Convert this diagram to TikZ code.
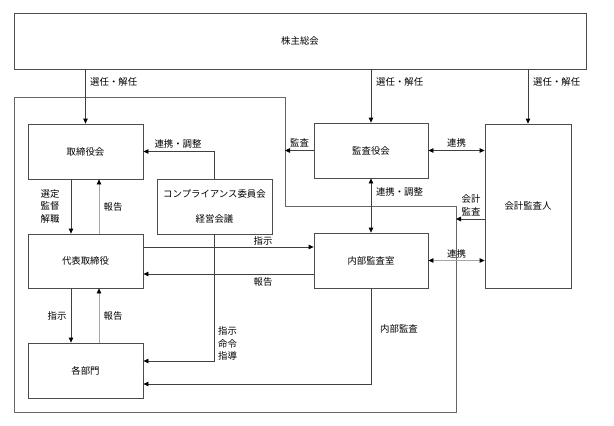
\documentclass[tikz,border=0pt]{standalone}
\usepackage{fontspec}
\setmainfont{Noto Sans CJK JP}
\usetikzlibrary{arrows.meta}
\tikzset{
	box/.style={draw=black!70, line width=0.8pt, minimum width=115pt, minimum height=55pt, inner sep=0pt},
	arr/.style={draw=black!75, line width=0.8pt, -{Triangle[length=5pt,width=4.5pt,color=black]}},
	darr/.style={draw=black!75, line width=0.8pt, {Triangle[length=5pt,width=4.5pt,color=black]}-{Triangle[length=5pt,width=4.5pt,color=black]}},
	lbl/.style={inner sep=0pt, align=center, font=\fontsize{9.4}{12.5}\selectfont}
}
\begin{document}
\begin{tikzpicture}[x=1pt, y=-1pt, font=\fontsize{9.4}{12.5}\selectfont]
		\useasboundingbox (0,0) rectangle (614,426);
		%company frame
		\coordinate (wakuNE) at (285,97);
		\coordinate (wakuSE) at (456,412);
		\draw[black!60, line width=0.8pt] (14,97) -- (wakuNE) -- (285,206) -- (456,206) -- (wakuSE) -- (14,412) -- cycle;
		
		%boxes
		\node[box, minimum width=572pt, minimum height=56pt] (soukai) at (300,41) {株主総会};
		\node[box] (torishimari) at (85.5,151.5) {取締役会};
		\node[box, align=center] (comp) at (214.5,206.5) {コンプライアンス委員会\\[13pt]経営会議};
		\node[box, minimum height=54pt] (daihyo) at (85.5,261) {代表取締役};
		\node[box] (kakubumon) at (85.5,370.5) {各部門};
		\node[box, minimum width=114pt] (kansa) at (371,150.5) {監査役会};
		\node[box, minimum width=114pt] (naibu) at (371,260.5) {内部監査室};
		\node[box, minimum width=86pt, minimum height=164pt] (kaikei) at (528,206) {会計監査人};
		
		%from the shareholders
		\foreach \b in {torishimari, kansa, kaikei}{
			\draw[arr] (\b |- soukai.south) -- (\b.north);
		}
		\node[lbl, anchor=west] (sennin1) at (90,82) {選任・解任};
		\node[lbl, anchor=west] (sennin2) at (376,82) {選任・解任};
		\node[lbl, anchor=west] (sennin3) at (533,82) {選任・解任};
		
		%left column
		\draw[arr] (comp.north) |- (torishimari.east);
		\node[lbl] (renkei1) at (178,144) {連携・調整};
		\draw[arr] ([xshift=-14.5pt]torishimari.south) -- ([xshift=-14.5pt]daihyo.north);
		\draw[arr, draw=black!35] ([xshift=13.5pt]daihyo.north) -- ([xshift=13.5pt]torishimari.south);
		\node[lbl] (sentei) at (50,206) {選定\\監督\\解職};
		\node[lbl] (houkoku1) at (113,207) {報告};
		\draw[arr] ([xshift=-14.5pt]daihyo.south) -- ([xshift=-14.5pt]kakubumon.north);
		\draw[arr, draw=black!35] ([xshift=13.5pt]kakubumon.north) -- ([xshift=13.5pt]daihyo.south);
		\node[lbl] (shiji1) at (57,316) {指示};
		\node[lbl] (houkoku2) at (113,316) {報告};
		\draw[arr] (comp.south) |- ([yshift=9.5pt]kakubumon.east);
		\node[lbl] (shiji2) at (227.5,343.5) {指示\\命令\\指導};
		
		%audit side
		\draw[arr] (kansa.west) -- (kansa.west -| wakuNE);
		\node[lbl] (kansa1) at (299.5,143) {監査};
		\draw[darr] (kansa.east) -- (kansa.east -| kaikei.west);
		\node[lbl] (renkei2) at (456.5,143) {連携};
		\draw[darr] (kansa.south) -- (naibu.north);
		\node[lbl] (renkei3) at (399.5,192) {連携・調整};
		\draw[arr] ([yshift=-13pt]kaikei.west) -- ([yshift=-13pt]kaikei.west -| wakuSE);
		\node[lbl] (kaikeikansa) at (471,205.5) {会計\\監査};
		\draw[darr, draw=black!35] (naibu.east) -- (naibu.east -| kaikei.west);
		\node[lbl] (renkei4) at (456.5,254) {連携};
		
		%internal audit
		\draw[arr] ([yshift=14pt]daihyo.east) -- ([yshift=14pt]daihyo.east -| naibu.west);
		\node[lbl] (shiji3) at (263,241) {指示};
		\draw[arr] ([yshift=-13.5pt]naibu.west) -- ([yshift=-13.5pt]naibu.west -| daihyo.east);
		\node[lbl] (houkoku3) at (263,282) {報告};
		\draw[arr] (naibu.south) |- ([yshift=-13.5pt]kakubumon.east);
		\node[lbl] (naibukansa) at (399,329) {内部監査};
\end{tikzpicture}
\end{document}
